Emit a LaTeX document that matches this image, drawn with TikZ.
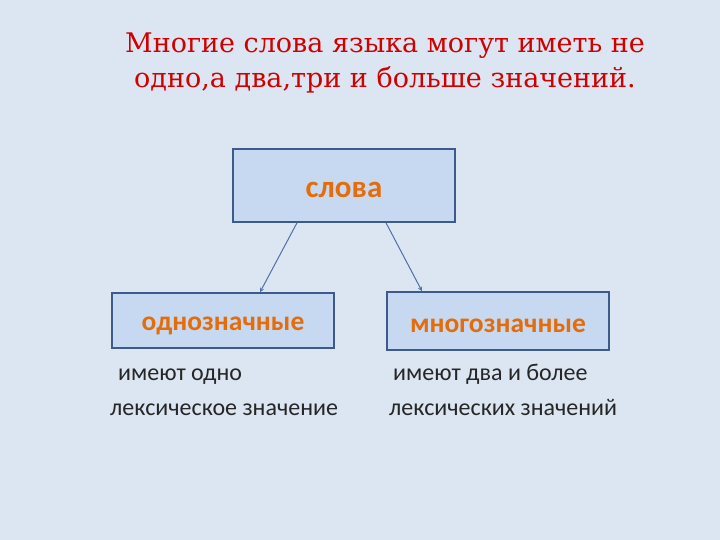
\documentclass[tikz,border=0pt]{standalone}
\usepackage{fontspec}
\setmainfont{DejaVu Serif}
\newfontfamily\calib{Carlito}
\usepackage{xcolor}
\usetikzlibrary{arrows,positioning}
\definecolor{slidebg}{HTML}{DCE6F2}
\definecolor{boxfill}{HTML}{C6D9F1}
\definecolor{boxline}{HTML}{3C5A8A}
\definecolor{titlered}{HTML}{D00000}
\definecolor{wordorange}{HTML}{E46C0A}
\definecolor{arrowblue}{HTML}{4F6FA8}
\tikzset{
  wordbox/.style={draw=boxline, line width=1.6pt, fill=boxfill, rectangle, inner sep=0pt},
  boxtext/.style={anchor=base, inner sep=0pt, text=wordorange, font=\calib\bfseries\fontsize{27.5}{30}\selectfont},
  note/.style={anchor=base west, inner sep=0pt, text=black!85, font=\calib\fontsize{24}{28}\selectfont},
  link/.style={->, >=stealth, arrowblue, line width=1pt}
}

\begin{document}
\begin{tikzpicture}[x=1pt, y=-1pt]
        \fill[slidebg] (0,0) rectangle (720,540);
        \useasboundingbox (0,0) rectangle (720,540);

        % Title in two lines
        \node[text=titlered, align=center, inner sep=0pt, font=\fontsize{27}{35}\selectfont, anchor=base] (title) at (385,88) {Многие слова языка могут иметь не\\одно,а два,три и больше значений.};

        % Top box
        \node[wordbox, minimum width=222pt, minimum height=73pt] (slova) at (344,185.5) {};
        \node[boxtext, font=\calib\bfseries\fontsize{31}{34}\selectfont] (slovatext) at (344,197) {слова};

        % Two boxes below
        \node[wordbox, minimum width=222pt, minimum height=55pt] (odno) at (223,320.5) {};
        \node[boxtext] (odnotext) at (223,330) {однозначные};

        \node[wordbox, minimum width=222pt, minimum height=58pt] (mnogo) at (498,321) {};
        \node[boxtext] (mnogotext) at (498,332) {многозначные};

        % Notes under the boxes
        \node[note] (odnonote1) at (118,380) {имеют одно};
        \node[note] (odnonote2) at (110,415) {лексическое значение};
        \node[note] (mnogonote1) at (393,380) {имеют два и более};
        \node[note] (mnogonote2) at (389,415) {лексических значений};

        % Arrows
        \draw[link] ([xshift=-47pt]slova.south) -- ([xshift=37pt]odno.north);
        \draw[link] ([xshift=42pt]slova.south) -- ([xshift=-76pt]mnogo.north);
    \end{tikzpicture}
\end{document}
